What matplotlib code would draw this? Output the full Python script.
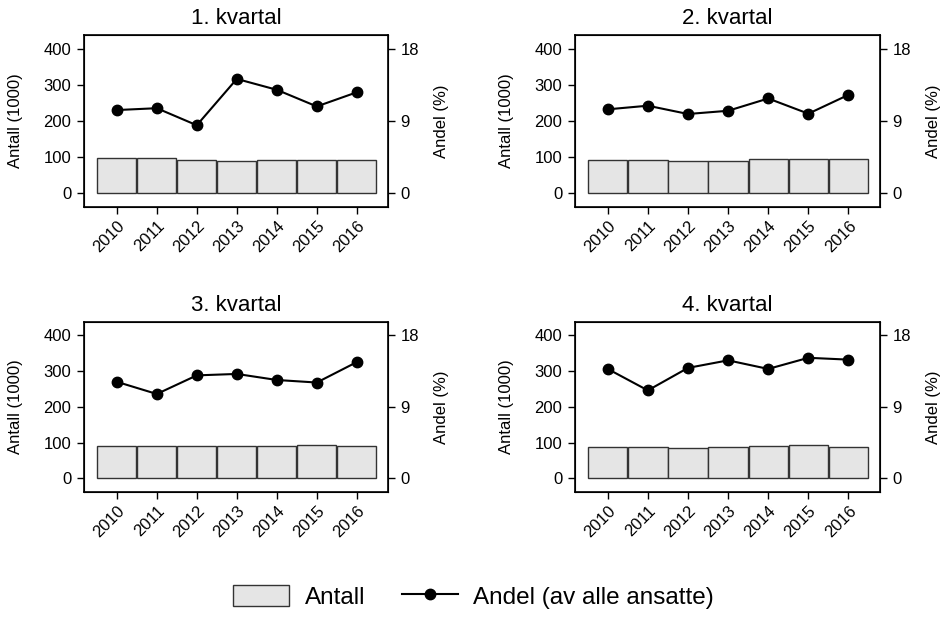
import matplotlib
matplotlib.use("Agg")
import matplotlib.pyplot as plt
from matplotlib.patches import Patch
from matplotlib.lines import Line2D

plt.rcParams['font.family'] = ['Liberation Sans', 'DejaVu Sans']

years = [2010, 2011, 2012, 2013, 2014, 2015, 2016]
titles = ["1. kvartal", "2. kvartal", "3. kvartal", "4. kvartal"]

# Antall (1000)
antall_q1 = [98, 98, 91, 88, 91, 93, 91]
antall_q2 = [91, 93, 88, 88, 96, 96, 96]
antall_q3 = [90, 91, 90, 91, 90, 94, 90]
antall_q4 = [87, 88, 85, 87, 91, 94, 88]

# Andel (%)
andel_q1 = [10.35, 10.58, 8.46, 14.22, 12.87, 10.80, 12.56]
andel_q2 = [10.44, 10.89, 9.86, 10.26, 11.79, 9.90, 12.24]
andel_q3 = [12.15, 10.62, 12.96, 13.14, 12.38, 12.06, 14.63]
andel_q4 = [13.77, 11.07, 13.90, 14.85, 13.77, 15.17, 14.94]

antall = [antall_q1, antall_q2, antall_q3, antall_q4]
andel = [andel_q1, andel_q2, andel_q3, andel_q4]

fig = plt.figure(figsize=(9.47, 6.39), dpi=100)

positions = [
    [0.0887, 0.676, 0.321, 0.269],
    [0.607, 0.676, 0.322, 0.269],
    [0.0887, 0.230, 0.321, 0.266],
    [0.607, 0.230, 0.322, 0.266],
]

ylo, yhi = -38, 437
for i in range(4):
    ax = fig.add_axes(positions[i])
    ax.bar(years, antall[i], width=0.98, color="#e5e5e5", edgecolor="#333333", linewidth=1)
    ax.set_xlim(2009.18, 2016.78)
    ax.set_ylim(ylo, yhi)
    ax.set_yticks([0, 100, 200, 300, 400])
    ax.set_xticks(years)
    ax.set_xticklabels([str(y) for y in years], rotation=45, ha="right", rotation_mode="anchor")
    ax.tick_params(direction="out", length=5, width=1, pad=4)
    ax.tick_params(axis="y", labelsize=12)
    ax.tick_params(axis="x", labelsize=12, pad=3)
    ax.set_ylabel("Antall (1000)", fontsize=12)
    ax.yaxis.set_label_coords(-0.20, 0.5)
    ax.set_title(titles[i], fontsize=16, pad=8)
    for s in ax.spines.values():
        s.set_linewidth(1.2)

    ax2 = ax.twinx()
    ax2.plot(years, andel[i], color="black", linewidth=1.5, marker="o", markersize=7.5)
    ax2.set_ylim(ylo * 18 / 400, yhi * 18 / 400)
    ax2.set_yticks([0, 9, 18])
    ax2.tick_params(direction="out", length=5, width=1, labelsize=12, pad=4)
    ax2.set_ylabel("Andel (%)", fontsize=12)
    ax2.yaxis.set_label_coords(1.15, 0.5)

handles = [
    Patch(facecolor="#e5e5e5", edgecolor="#333333", linewidth=1),
    Line2D([0], [0], color="black", linewidth=1.5, marker="o", markersize=7.5),
]
fig.legend(handles, ["Antall", "Andel (av alle ansatte)"], loc="center",
           bbox_to_anchor=(0.5, 0.066), ncol=2, frameon=False,
           fontsize=17.5, handlelength=2.3, handleheight=1.0, columnspacing=1.5,
           handletextpad=0.65)

fig.savefig("out.png", dpi=100)
